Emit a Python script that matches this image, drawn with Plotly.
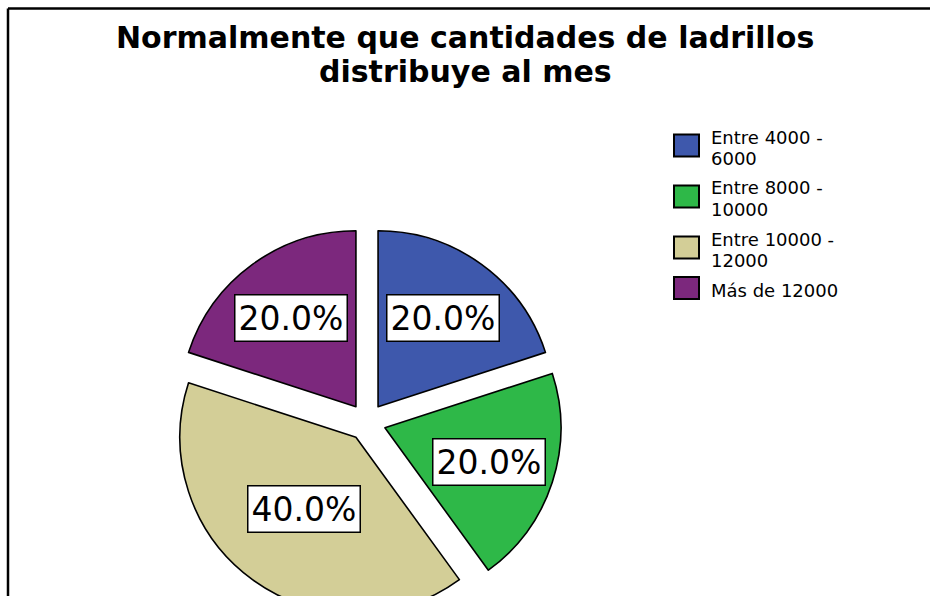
import math
import plotly.graph_objects as go

# datos
categorias = ["Entre 4000 - 6000", "Entre 8000 - 10000", "Entre 10000 - 12000", "Más de 12000"]
leyenda = [["Entre 4000 -", "6000"], ["Entre 8000 -", "10000"], ["Entre 10000 -", "12000"], ["Más de 12000"]]
porcentajes = [20.0, 20.0, 40.0, 20.0]
colores = ["#3E58AC", "#2EB848", "#D3CE97", "#7C287D"]
titulo = ["Normalmente que cantidades de ladrillos", "distribuye al mes"]

# the original chart is cut off at the bottom, so the figure is taller than the window
W, H = 930, 650
cx, cy, r, pull = 367, 422, 176, 0.107
s = r * (1 + pull)

fig = go.Figure(go.Pie(
    labels=categorias,
    values=porcentajes,
    sort=False,
    direction="clockwise",
    rotation=0,
    marker=dict(colors=colores, line=dict(color="black", width=1.6)),
    pull=[pull] * len(porcentajes),
    textinfo="none",
    hoverinfo="label+percent",
    showlegend=False,
    domain=dict(x=[(cx - s) / W, (cx + s) / W], y=[(H - cy - s) / H, (H - cy + s) / H]),
))

anns = []
# percentage boxes at the centroid of each slice
total = sum(porcentajes)
start = 0.0
for v in porcentajes:
    half = math.pi * v / total
    mid = start + half
    dist = pull * r + r * 2 * math.sin(half) / (3 * half)
    px_ = cx + dist * math.sin(mid)
    py_ = cy - dist * math.cos(mid)
    anns.append(dict(
        x=px_ / W, y=1 - py_ / H, xref="paper", yref="paper", showarrow=False,
        xanchor="center", yanchor="middle",
        text=f"{v / total * 100:.1f}%",
        font=dict(family="DejaVu Sans", size=33, color="black"),
        bgcolor="white", bordercolor="black", borderwidth=1.5, borderpad=3,
    ))
    start += 2 * half

# title
for i, t in enumerate(titulo):
    anns.append(dict(
        x=0.5, y=1 - (38 + 34 * i) / H, xref="paper", yref="paper", showarrow=False,
        xanchor="center", yanchor="middle", text=f"<b>{t}</b>",
        font=dict(family="DejaVu Sans", size=30, color="black"),
    ))

# legend
shapes = []
y0 = 137
for lines, col in zip(leyenda, colores):
    for j, ln in enumerate(lines):
        anns.append(dict(
            x=709 / W, y=1 - (y0 + 21 * j) / H, xref="paper", yref="paper", showarrow=False,
            xanchor="left", yanchor="middle", text=ln,
            font=dict(family="DejaVu Sans", size=18, color="black"),
        ))
    yc = y0 + 10.5 * (len(lines) - 1) - 2
    shapes.append(dict(
        type="rect", xref="paper", yref="paper",
        x0=674 / W, x1=699 / W, y0=1 - (yc - 11) / H, y1=1 - (yc + 11) / H,
        fillcolor=col, line=dict(color="black", width=2),
    ))
    y0 += 21 * len(lines) + 9

# frame (right and bottom edges fall outside the picture)
shapes.append(dict(type="line", xref="paper", yref="paper", x0=8 / W, x1=1.05,
                   y0=1 - 8.5 / H, y1=1 - 8.5 / H, line=dict(color="black", width=2.5)))
shapes.append(dict(type="line", xref="paper", yref="paper", x0=8 / W, x1=8 / W,
                   y0=1 - 8.5 / H, y1=-0.05, line=dict(color="black", width=2.5)))

fig.update_layout(
    width=W, height=H,
    margin=dict(l=0, r=0, t=0, b=0),
    paper_bgcolor="white",
    plot_bgcolor="white",
    annotations=anns,
    shapes=shapes,
)

fig.write_html("out.html", config={"displayModeBar": False},
               post_script="document.body.style.margin='0';"
               "document.body.style.overflow='hidden';"
               "document.documentElement.style.overflow='hidden';")
